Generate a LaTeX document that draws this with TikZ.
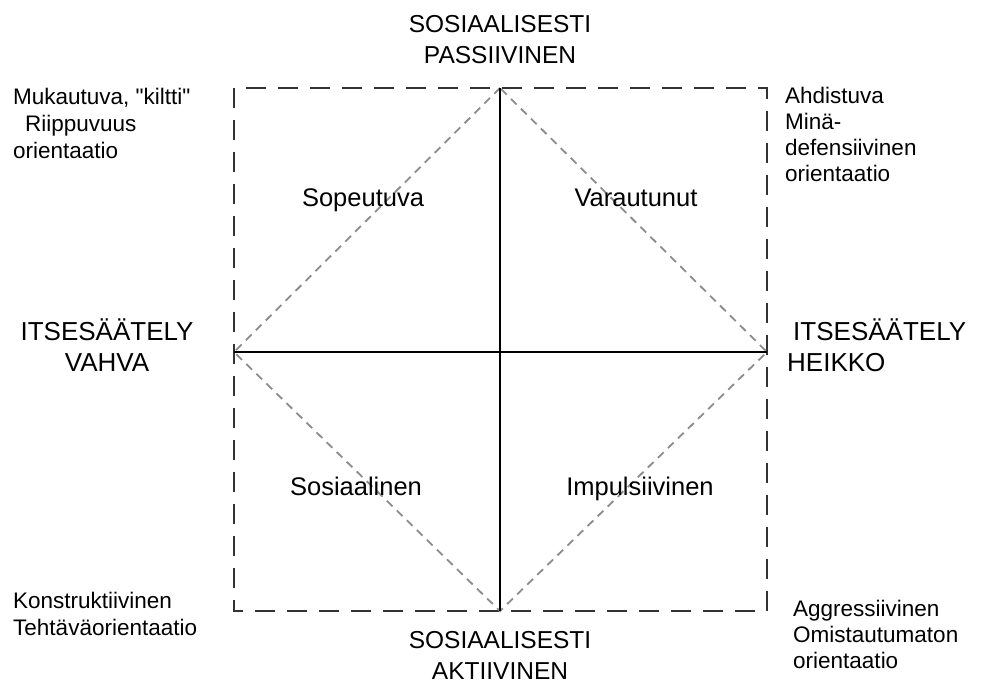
\documentclass[tikz,border=0pt]{standalone}
\usepackage{fontspec}
\setmainfont{Liberation Sans}
% a copy of the family without TeX input mapping, for straight quotes
\newfontfamily\straightq{Liberation Sans}
\newcommand{\sq}{{\straightq\symbol{34}}}
\begin{document}
\begin{tikzpicture}[x=1pt,y=-1pt,
  axislabel/.style={font=\fontsize{24.5}{31}\selectfont, align=center, inner sep=0pt, anchor=north},
  selflabel/.style={font=\fontsize{26}{31}\selectfont, inner sep=0pt},
  sidelabel/.style={font=\fontsize{22.5}{27}\selectfont, align=left, inner sep=0pt, anchor=north west},
  quadlabel/.style={font=\fontsize{25.5}{29}\selectfont, inner sep=0pt, anchor=base},
  frame/.style={draw=black!80, line width=1.8pt, dash pattern=on 20pt off 12pt},
  axis/.style={draw=black, line width=1.6pt},
  diag/.style={draw=black!45, line width=1.8pt, dash pattern=on 8pt off 6pt}]
\useasboundingbox (0,0) rectangle (989,691);

% corners of the field and the four axis ends
\coordinate (nw) at (234,88);
\coordinate (se) at (767,611);
\coordinate (top) at (500,88);
\coordinate (bot) at (500,611);
\coordinate (lft) at (234,352);
\coordinate (rgt) at (767,352);

% dashed outer frame
\draw[frame] (nw) rectangle (se);

% inner diamond
\draw[diag] (top) -- (lft) -- (bot) -- (rgt) -- cycle;

% axes
\draw[axis] (top) -- (bot);
\draw[axis] (lft) -- (rgt);

% axis labels
\node[axislabel] (passive) at (500,15) {SOSIAALISESTI\\PASSIIVINEN};
\node[axislabel] (active) at (500,631) {SOSIAALISESTI\\AKTIIVINEN};
\node[selflabel, align=center, anchor=north] (strong) at (107,319) {ITSESÄÄTELY\\VAHVA};
\node[selflabel, align=left, anchor=north west] (weak) at (787,319) {\hspace*{6pt}ITSESÄÄTELY\\HEIKKO};

% corner orientations
\node[sidelabel] (tl) at (13,88) {Mukautuva, \sq kiltti\sq\\\hspace*{12pt}Riippuvuus\\orientaatio};
\node[sidelabel, font=\fontsize{22.5}{26}\selectfont] (tr) at (785,87) {Ahdistuva\\Minä-\\defensiivinen\\orientaatio};
\node[sidelabel] (bl) at (13,592) {Konstruktiivinen\\Tehtäväorientaatio};
\node[sidelabel, font=\fontsize{22.5}{26}\selectfont] (br) at (793,600) {Aggressiivinen\\Omistautumaton\\orientaatio};

% quadrant names
\node[quadlabel] (q1) at (363,206) {Sopeutuva};
\node[quadlabel] (q2) at (636,206) {Varautunut};
\node[quadlabel] (q3) at (356,495) {Sosiaalinen};
\node[quadlabel] (q4) at (640,495) {Impulsiivinen};
\end{tikzpicture}
\end{document}
